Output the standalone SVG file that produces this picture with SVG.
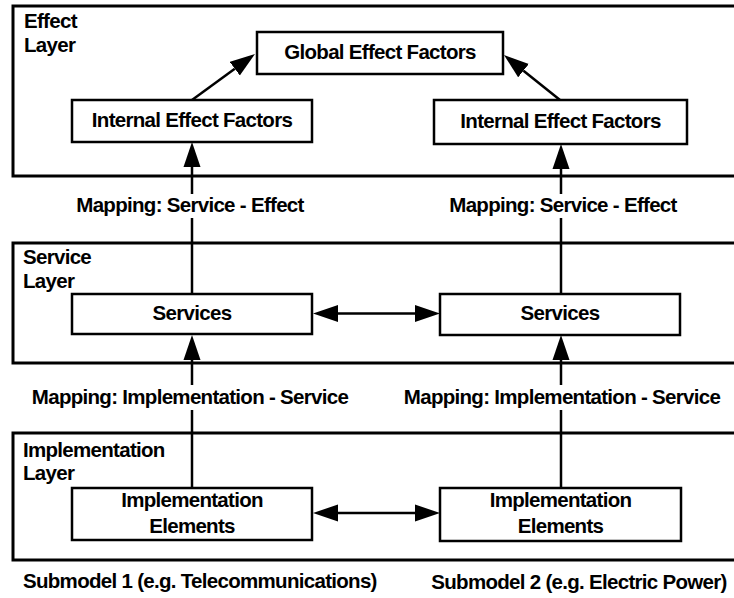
<svg xmlns="http://www.w3.org/2000/svg" width="734" height="598" viewBox="0 0 734 598">
<style>
text{font-family:"Liberation Sans",Arial,sans-serif;font-weight:bold;font-size:20.5px;letter-spacing:-0.7px;fill:#000}
.c{text-anchor:middle}
.layer{fill:none;stroke:#000;stroke-width:3}
.box{fill:#fff;stroke:#000;stroke-width:2.5}
.ln{fill:none;stroke:#000;stroke-width:2.5}
</style>
<defs>
<marker id="ah" markerUnits="userSpaceOnUse" markerWidth="26" markerHeight="18" refX="0" refY="8.5" orient="auto-start-reverse" viewBox="0 0 26 17">
<path d="M0,0 L25,8.5 L0,17 z" fill="#000"/>
</marker>
</defs>
<rect width="734" height="598" fill="#fff"/>
<g id="effect-layer">
<rect class="layer" x="13" y="6" width="740" height="170"/>
<text x="24" y="28">Effect</text>
<text x="24" y="52">Layer</text>
</g>
<g id="service-layer">
<rect class="layer" x="13" y="243" width="740" height="120"/>
<text x="23" y="264">Service</text>
<text x="23" y="288">Layer</text>
</g>
<g id="implementation-layer">
<rect class="layer" x="13" y="433" width="740" height="127"/>
<text x="23" y="457">Implementation</text>
<text x="23" y="480">Layer</text>
</g>
<g id="connectors">
<line class="ln" x1="192" y1="100" x2="234.8" y2="68.7" marker-end="url(#ah)"/>
<line class="ln" x1="560" y1="100" x2="523.5" y2="70.7" marker-end="url(#ah)"/>
<line class="ln" x1="192" y1="294" x2="192" y2="218"/>
<line class="ln" x1="192" y1="194" x2="192" y2="167" marker-end="url(#ah)"/>
<line class="ln" x1="561" y1="294" x2="561" y2="218"/>
<line class="ln" x1="561" y1="194" x2="561" y2="169" marker-end="url(#ah)"/>
<line class="ln" x1="192" y1="488" x2="192" y2="410"/>
<line class="ln" x1="192" y1="385" x2="192" y2="360" marker-end="url(#ah)"/>
<line class="ln" x1="561" y1="488" x2="561" y2="410"/>
<line class="ln" x1="561" y1="385" x2="561" y2="360" marker-end="url(#ah)"/>
<line class="ln" x1="338" y1="313.5" x2="415" y2="313.5" marker-start="url(#ah)" marker-end="url(#ah)"/>
<line class="ln" x1="338" y1="513" x2="415" y2="513" marker-start="url(#ah)" marker-end="url(#ah)"/>
<text class="c" x="190" y="212">Mapping: Service - Effect</text>
<text class="c" x="563" y="212">Mapping: Service - Effect</text>
<text class="c" x="190" y="404">Mapping: Implementation - Service</text>
<text class="c" x="562" y="404">Mapping: Implementation - Service</text>
</g>
<g id="global-effect-factors">
<rect class="box" x="257" y="32" width="246" height="42"/>
<text class="c" x="380" y="59">Global Effect Factors</text>
</g>
<g id="internal-effect-factors-1">
<rect class="box" x="72" y="100" width="240" height="42"/>
<text class="c" x="192" y="127">Internal Effect Factors</text>
</g>
<g id="internal-effect-factors-2">
<rect class="box" x="434" y="100" width="253" height="44"/>
<text class="c" x="560.5" y="128">Internal Effect Factors</text>
</g>
<g id="services-1">
<rect class="box" x="72" y="294" width="240" height="40"/>
<text class="c" x="192" y="320">Services</text>
</g>
<g id="services-2">
<rect class="box" x="440" y="294" width="240" height="41"/>
<text class="c" x="560" y="320">Services</text>
</g>
<g id="implementation-elements-1">
<rect class="box" x="72" y="488" width="240" height="52"/>
<text class="c" x="192" y="507">Implementation</text>
<text class="c" x="192" y="533">Elements</text>
</g>
<g id="implementation-elements-2">
<rect class="box" x="440" y="488" width="241" height="53"/>
<text class="c" x="560.5" y="507">Implementation</text>
<text class="c" x="560.5" y="533">Elements</text>
</g>
<g id="captions">
<text x="23" y="588">Submodel 1 (e.g. Telecommunications)</text>
<text class="c" x="579" y="589">Submodel 2 (e.g. Electric Power)</text>
</g>
</svg>
